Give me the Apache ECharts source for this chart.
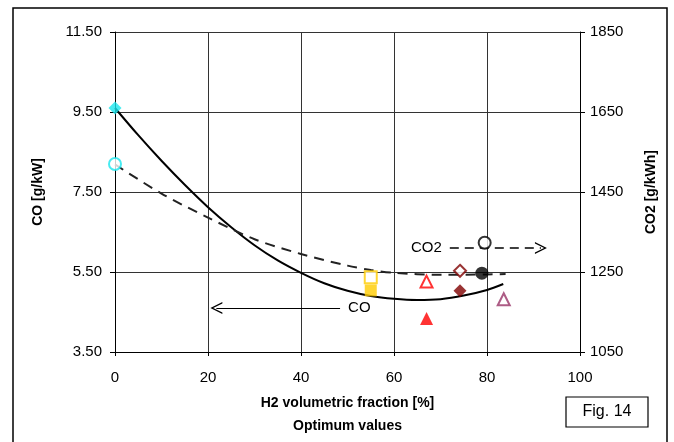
<!DOCTYPE html>
<html>
<head>
<meta charset="utf-8">
<script src="https://cdn.jsdelivr.net/npm/echarts@6/dist/echarts.min.js"></script>
<style>
    html, body { margin: 0; padding: 0; background: #fff; }
    #chart { width: 674px; height: 442px; }
</style>
</head>
<body>
<div id="chart"></div>
<script>
// fitted curves
const coFitX = [0, 5, 10, 15, 20, 25, 30, 35, 40, 45, 50, 55, 60, 65, 70, 75, 80, 83.5];
const coFitY = [9.6, 8.92, 8.28, 7.68, 7.12, 6.62, 6.17, 5.79, 5.48, 5.22, 5.03, 4.9, 4.83, 4.8, 4.82, 4.91, 5.05, 5.2];
const co2FitX = [0, 10, 20, 30, 40, 50, 55, 60, 70, 80, 84];
const co2FitY = [1519, 1446, 1386, 1332, 1295, 1266, 1255, 1248, 1243, 1244, 1245];

// measured optimum points: [H2 %, value]
const coPoints = {
    cyan: [0, 9.6],
    yellow: [55, 5.04],
    red: [67, 4.34],
    darkred: [74.2, 5.03],
    black: [78.9, 5.47]
};
const co2Points = {
    cyan: [0, 1520],
    yellow: [55, 1237],
    red: [67, 1226],
    darkred: [74.2, 1253],
    black: [79.5, 1323],
    purple: [83.6, 1182]
};

const xTicks = [0, 100, 20];
const coAxis = [3.5, 11.5, 2];
const co2Axis = [1050, 1850, 200];

const colors = {
    cyan: '#19e6ee',
    yellow: '#ffcc00',
    red: '#ff0000',
    darkred: '#800000',
    black: '#000000',
    purple: '#993366'
};
const coSymbols = { cyan: 'diamond', yellow: 'rect', red: 'triangle', darkred: 'diamond', black: 'circle' };
const co2Symbols = { cyan: 'circle', yellow: 'rect', red: 'triangle', darkred: 'diamond', black: 'circle', purple: 'triangle' };

const font = 'Liberation Sans, Arial, sans-serif';
const chevron = 'path://M0,0 L6,10 L4.6,10 L0,2.4 L-4.6,10 L-6,10 Z';

let series = [];
series.push({
    name: 'CO fit',
    type: 'line',
    yAxisIndex: 0,
    smooth: 0.3,
    showSymbol: false,
    data: coFitX.map((x, i) => [x, coFitY[i]]),
    lineStyle: { color: '#000', width: 2 },
    z: 3,
    markLine: {
        silent: true,
        symbol: ['none', chevron],
        symbolSize: [12, 12],
        lineStyle: { color: '#000', width: 1.2, type: 'solid' },
        label: { show: true, position: 'start', formatter: 'CO', color: '#000', fontSize: 15, fontFamily: font, distance: 8 },
        data: [[{ coord: [48.4, 4.6] }, { coord: [21.8, 4.6] }]]
    }
});
series.push({
    name: 'CO2 fit',
    type: 'line',
    yAxisIndex: 1,
    smooth: 0.3,
    showSymbol: false,
    data: co2FitX.map((x, i) => [x, co2FitY[i]]),
    lineStyle: { color: '#222', width: 2, type: [10, 7] },
    z: 3,
    markLine: {
        silent: true,
        symbol: ['none', chevron],
        symbolSize: [12, 12],
        lineStyle: { color: '#000', width: 1.5, type: [9, 6] },
        label: { show: true, position: 'start', formatter: 'CO2', color: '#000', fontSize: 15, fontFamily: font, distance: 8 },
        data: [[{ coord: [72, 1310] }, { coord: [91.6, 1310] }]]
    }
});

Object.keys(coPoints).forEach(k => {
    series.push({
        name: 'CO ' + k,
        type: 'scatter',
        yAxisIndex: 0,
        symbol: coSymbols[k],
        symbolSize: k === 'yellow' ? 12 : 13,
        data: [coPoints[k]],
        itemStyle: { color: colors[k] },
        z: 5
    });
});
Object.keys(co2Points).forEach(k => {
    series.push({
        name: 'CO2 ' + k,
        type: 'scatter',
        yAxisIndex: 1,
        symbol: co2Symbols[k],
        symbolSize: 12,
        data: [co2Points[k]],
        itemStyle: { color: '#fff', borderColor: colors[k], borderWidth: 2 },
        z: 5
    });
});

const option = {
    backgroundColor: '#fff',
    animation: false,
    textStyle: { fontFamily: font },
    grid: { left: 115, right: 94, top: 32, bottom: 90, containLabel: false },
    xAxis: {
        type: 'value',
        min: xTicks[0],
        max: xTicks[1],
        interval: xTicks[2],
        name: '{b|H2 volumetric fraction [%]}\n{b|Optimum values}',
        nameLocation: 'middle',
        nameGap: 40,
        nameTextStyle: {
            rich: { b: { fontSize: 14, fontWeight: 'bold', color: '#000', fontFamily: font, lineHeight: 23 } }
        },
        axisLine: { show: true, onZero: false, lineStyle: { color: '#000', width: 1 } },
        axisTick: { show: true, length: 4, lineStyle: { color: '#000' } },
        axisLabel: { color: '#000', fontSize: 15, margin: 18 },
        splitLine: { show: true, lineStyle: { color: '#333', width: 1 } }
    },
    yAxis: [{
        type: 'value',
        position: 'left',
        min: coAxis[0],
        max: coAxis[1],
        interval: coAxis[2],
        name: 'CO [g/kW]',
        nameLocation: 'middle',
        nameRotate: 90,
        nameGap: 70,
        nameTextStyle: { fontSize: 14, fontWeight: 'bold', color: '#000' },
        axisLine: { show: true, onZero: false, lineStyle: { color: '#000' } },
        axisTick: { show: true, length: 5, lineStyle: { color: '#000' } },
        axisLabel: { color: '#000', fontSize: 15, margin: 13, formatter: v => v.toFixed(2) },
        splitLine: { show: true, lineStyle: { color: '#333', width: 1 } }
    }, {
        type: 'value',
        position: 'right',
        min: co2Axis[0],
        max: co2Axis[1],
        interval: co2Axis[2],
        name: 'CO2 [g/kWh]',
        nameLocation: 'middle',
        nameRotate: 90,
        nameGap: 64,
        nameTextStyle: { fontSize: 14, fontWeight: 'bold', color: '#000' },
        axisLine: { show: true, onZero: false, lineStyle: { color: '#000' } },
        axisTick: { show: true, length: 5, lineStyle: { color: '#000' } },
        axisLabel: { color: '#000', fontSize: 15, margin: 10, formatter: v => String(v) },
        splitLine: { show: false }
    }],
    graphic: [{
        type: 'rect',
        shape: { x: 13, y: 8, width: 654, height: 445 },
        style: { fill: 'none', stroke: '#000', lineWidth: 1.5 },
        silent: true
    }, {
        type: 'rect',
        shape: { x: 566, y: 397, width: 82, height: 30 },
        style: { fill: '#fff', stroke: '#000', lineWidth: 1.2 },
        silent: true
    }, {
        type: 'text',
        x: 607,
        y: 412,
        style: { text: 'Fig. 14', fill: '#000', font: '16px ' + font, align: 'center', verticalAlign: 'middle' },
        silent: true
    }],
    series: series
};

const myChart = echarts.init(document.getElementById('chart'));
myChart.setOption(option);
</script>
</body>
</html>
